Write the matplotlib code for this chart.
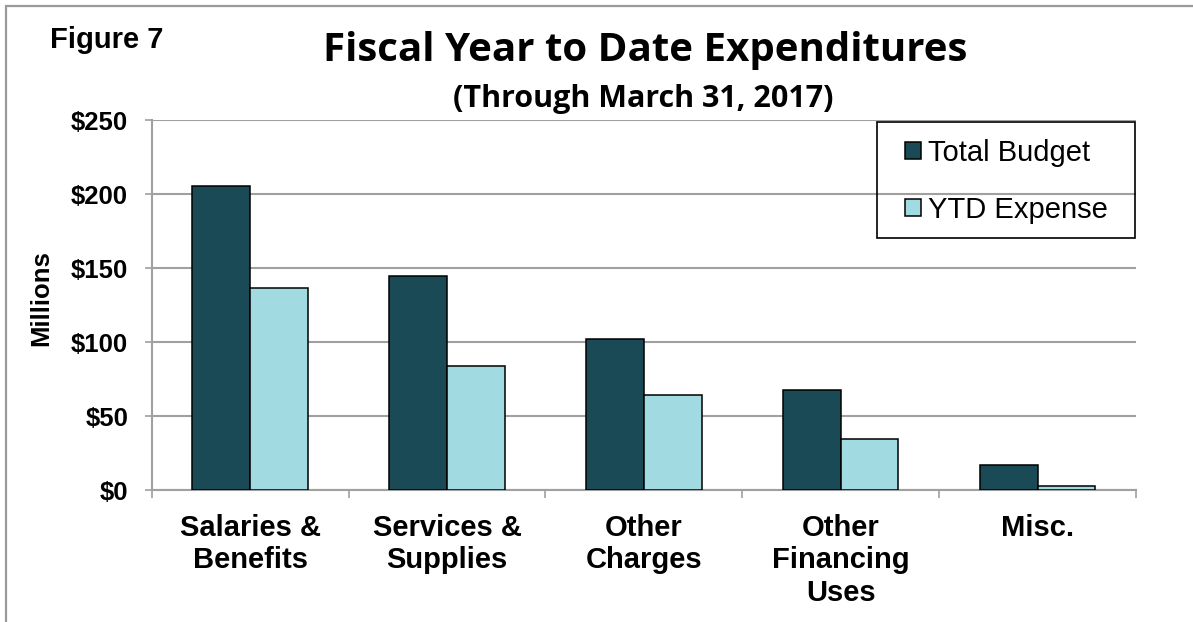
import matplotlib
matplotlib.use("Agg")
import matplotlib.pyplot as plt
import numpy as np
from matplotlib.patches import Rectangle

# Expenditure categories and amounts (in millions of dollars)
categories = ["Salaries &\nBenefits", "Services &\nSupplies", "Other\nCharges",
              "Other\nFinancing\nUses", "Misc."]
total_budget = [205.6, 144.4, 102.2, 67.6, 17.1]
ytd_expense = [136.7, 83.8, 64.4, 34.3, 2.9]
series_names = ["Total Budget", "YTD Expense"]
y_ticks = [0, 50, 100, 150, 200, 250]
y_tick_labels = ["$0", "$50", "$100", "$150", "$200", "$250"]

dark = "#1A4A55"
light = "#A2DAE2"
grid_gray = "#A0A0A0"

W, H = 1193, 622
fig = plt.figure(figsize=(W / 100, H / 100), dpi=100)
fig.patch.set_facecolor("white")

ax = fig.add_axes([151.7 / W, 1 - 490 / H, (1136 - 151.7) / W, 370 / H])

x = np.arange(len(categories))
bw = 0.293
ax.bar(x - bw / 2, total_budget, width=bw, color=dark, edgecolor="black",
       linewidth=1.1, label=series_names[0], zorder=3)
ax.bar(x + bw / 2, ytd_expense, width=bw, color=light, edgecolor="black",
       linewidth=1.1, label=series_names[1], zorder=3)

ax.set_xlim(-0.5, len(categories) - 0.5)
ax.set_ylim(0, 250)

ax.set_yticks(y_ticks)
ax.set_yticklabels(y_tick_labels, fontfamily="Liberation Sans",
                   fontweight="bold", fontsize=18.5)
ax.tick_params(axis="y", length=5, width=1.2, color=grid_gray, pad=12)

ax.set_xticks(x)
ax.set_xticklabels(categories, fontfamily="Liberation Sans", fontweight="bold",
                   fontsize=21, linespacing=1.22)
ax.tick_params(axis="x", which="major", length=0, pad=17)
ax.set_xticks(np.arange(-0.5, len(categories), 1.0), minor=True)
ax.tick_params(axis="x", which="minor", length=6, width=1.2, color=grid_gray)

ax.yaxis.grid(True, color=grid_gray, linewidth=1.5, zorder=0)
ax.set_axisbelow(True)
for side in ["top", "right"]:
    ax.spines[side].set_visible(False)
for side in ["left", "bottom"]:
    ax.spines[side].set_color(grid_gray)
    ax.spines[side].set_linewidth(1.5)

ax.set_ylabel("Millions", fontfamily="Liberation Sans", fontweight="bold",
              fontsize=18.5)
ax.yaxis.set_label_coords(-98 / (1136 - 151.7), 0.52)

# Legend entries, with a separate square frame around them
leg = fig.legend(loc="upper left", bbox_to_anchor=(905 / W, 1 - 139 / H),
                 handles=ax.get_legend_handles_labels()[0],
                 labels=series_names,
                 prop={"family": "Liberation Sans", "size": 21},
                 frameon=False, handlelength=0.55, handleheight=0.55,
                 handletextpad=0.25, labelspacing=0.99, borderpad=0.0,
                 borderaxespad=0.0)
fig.patches.append(Rectangle((877 / W, 1 - 238 / H), (1135 - 877) / W,
                             (238 - 122) / H, transform=fig.transFigure,
                             fill=False, edgecolor="black", linewidth=1.2))

fig.text(645 / W, 1 - 61 / H, "Fiscal Year to Date Expenditures",
         fontfamily="Open Sans", fontweight="bold", fontsize=29,
         ha="center", va="baseline")
fig.text(643 / W, 1 - 107 / H, "(Through March 31, 2017)",
         fontfamily="Open Sans", fontweight="bold", fontsize=22,
         ha="center", va="baseline")
fig.text(50 / W, 1 - 48 / H, "Figure 7", fontfamily="Liberation Sans",
         fontweight="bold", fontsize=21, ha="left", va="baseline")

# Outer frame (top and left edges visible)
fig.patches.append(Rectangle((6 / W, -0.1), 1.2, 1 - 5.5 / H + 0.1,
                             transform=fig.transFigure, fill=False,
                             edgecolor="#9A9A9A", linewidth=1.6))

fig.savefig("out.png", dpi=100)
